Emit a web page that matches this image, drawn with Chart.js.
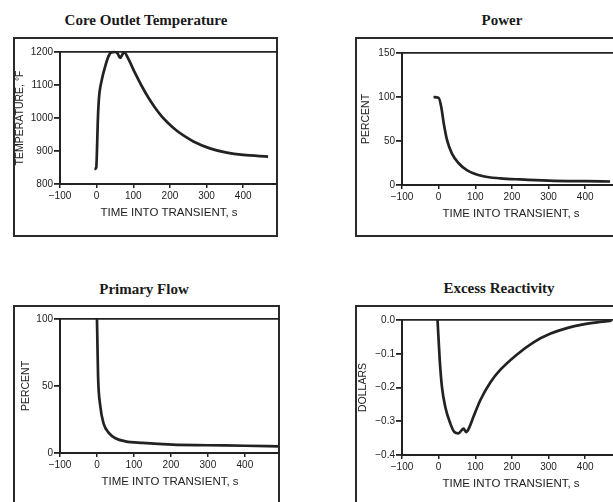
<!DOCTYPE html>
<html>
<head>
<meta charset="utf-8">
<script src="https://cdn.jsdelivr.net/npm/chart.js@4.4.1/dist/chart.umd.min.js"></script>
<style>
  html, body { margin:0; padding:0; background:#fff; width:613px; height:502px; overflow:hidden; }
  .box { position:absolute; border:2px solid #2a2a2a; box-sizing:border-box; }
  canvas { position:absolute; }
  .ttl { position:absolute; width:220px; text-align:center; font-family:"Liberation Serif", serif; font-weight:bold; font-size:15px; line-height:18px; color:#1a1a1a; }
</style>
</head>
<body>
<div class="box" style="left:13px;top:37px;width:265px;height:200px"></div>
<div class="box" style="left:355px;top:37px;width:275px;height:200px"></div>
<div class="box" style="left:13px;top:305px;width:267px;height:220px"></div>
<div class="box" style="left:355px;top:305px;width:275px;height:220px"></div>

<div class="ttl" style="left:36px;top:11px">Core Outlet Temperature</div>
<div class="ttl" style="left:392px;top:11px">Power</div>
<div class="ttl" style="left:34px;top:280px">Primary Flow</div>
<div class="ttl" style="left:389px;top:279px">Excess Reactivity</div>

<canvas id="c1" width="265" height="187" style="left:13px;top:37px;width:265px;height:187px"></canvas>
<canvas id="c2" width="265" height="188" style="left:355px;top:37px;width:265px;height:188px"></canvas>
<canvas id="c3" width="267" height="188" style="left:13px;top:305px;width:267px;height:188px"></canvas>
<canvas id="c4" width="265" height="190" style="left:355px;top:305px;width:265px;height:190px"></canvas>

<script>
// ---- shared x axis ----
const X_TICKS = [-100, 0, 100, 200, 300, 400];
const X_LABELS = ['\u2212100', '0', '100', '200', '300', '400'];
const X_TITLE = 'TIME INTO TRANSIENT, s';

// ---- Core Outlet Temperature ----
const tempTime  = [-6, -1, 1, 3, 6, 14, 23, 32, 40, 50, 57, 64, 70, 75, 88, 104, 123, 141, 159, 177, 195, 218, 241, 264, 309, 355, 400, 468];
const tempValue = [845, 850, 905, 985, 1055, 1115, 1155, 1186, 1199, 1200, 1196, 1182, 1192, 1199, 1176, 1138, 1097, 1062, 1032, 1006, 985, 962, 944, 929, 908, 895, 888, 883];
const tempTicks = [800, 900, 1000, 1100, 1200];
const tempTickLabels = ['800', '900', '1000', '1100', '1200'];

// ---- Power ----
const powerTime  = [-14, 0, 7, 14, 23, 36, 54, 77, 122, 168, 223, 300, 400, 468];
const powerValue = [100, 99, 89, 70, 51, 36, 25, 17, 10, 7.6, 6.3, 5, 4.3, 4];
const powerTicks = [0, 50, 100, 150];
const powerTickLabels = ['0', '50', '100', '150'];

// ---- Primary Flow ----
const flowTime  = [0, 1, 3, 9, 18, 32, 50, 77, 123, 205, 300, 400, 490];
const flowValue = [100, 85, 57, 35, 22, 15, 11, 8.7, 7.5, 6.2, 5.8, 5.4, 5];
const flowTicks = [0, 50, 100];
const flowTickLabels = ['0', '50', '100'];

// ---- Excess Reactivity ----
const reactTime  = [-3, 3, 9, 18, 32, 43, 54, 68, 75, 82, 95, 114, 141, 168, 214, 259, 304, 350, 395, 440, 472];
const reactValue = [0, -0.119, -0.198, -0.257, -0.307, -0.332, -0.336, -0.322, -0.332, -0.322, -0.287, -0.237, -0.185, -0.148, -0.102, -0.066, -0.041, -0.024, -0.013, -0.006, -0.002];
const reactTicks = [-0.4, -0.3, -0.2, -0.1, 0];
const reactTickLabels = ['\u22120.4', '\u22120.3', '\u22120.2', '\u22120.1', '0.0'];

const INK = '#222';
const FONT = 'Liberation Sans, Arial, sans-serif';

function makeChart(id, times, values, yMin, yMax, yTicks, yLabels, yTitle, yTitlePad, topPad) {
  const pts = times.map((t, i) => ({ x: t, y: values[i] }));
  return new Chart(document.getElementById(id), {
    type: 'scatter',
    data: { datasets: [{ data: pts, showLine: true, borderColor: INK, borderWidth: 2.7,
      pointRadius: 0, cubicInterpolationMode: 'monotone', clip: false }] },
    options: {
      responsive: false, animation: false, devicePixelRatio: 1,
      layout: { padding: { top: topPad, left: 0, right: 0, bottom: 0 } },
      plugins: { legend: { display: false }, tooltip: { enabled: false } },
      scales: {
        x: {
          type: 'linear', min: -100, max: 495,
          afterBuildTicks: s => { s.ticks = X_TICKS.map(v => ({ value: v })); },
          afterFit: s => { s.height = 40; },
          ticks: { callback: (v, i) => X_LABELS[i], font: { family: FONT, size: 10 }, color: INK,
                   padding: 2, maxRotation: 0, autoSkip: false },
          grid: { color: 'transparent', tickColor: INK, tickLength: 4, lineWidth: 1.5 },
          border: { display: true, color: INK, width: 2 },
          title: { display: true, text: X_TITLE, color: INK,
                   font: { family: FONT, size: 11.5, lineHeight: 1 }, padding: { top: 0, bottom: 5.5 } }
        },
        y: {
          type: 'linear', min: yMin, max: yMax,
          afterBuildTicks: s => { s.ticks = yTicks.map(v => ({ value: v })); },
          afterFit: s => { s.width = 47; },
          ticks: { callback: (v, i) => yLabels[i], font: { family: FONT, size: 10 }, color: INK, padding: 1 },
          grid: { color: c => (c.tick && c.tick.value === yMax) ? INK : 'transparent',
                  tickColor: INK, tickLength: 6, lineWidth: 1.8 },
          border: { display: true, color: INK, width: 2 },
          title: { display: true, text: yTitle, color: INK,
                   font: { family: FONT, size: 10.5, lineHeight: 1 }, padding: { top: yTitlePad, bottom: 0 } }
        }
      }
    }
  });
}

makeChart('c1', tempTime, tempValue, 800, 1200, tempTicks, tempTickLabels, 'TEMPERATURE, \u00B0F', 1.5, 15);
makeChart('c2', powerTime, powerValue, 0, 150, powerTicks, powerTickLabels, 'PERCENT', 6, 16);
makeChart('c3', flowTime, flowValue, 0, 100, flowTicks, flowTickLabels, 'PERCENT', 8, 14);
makeChart('c4', reactTime, reactValue, -0.4, 0, reactTicks, reactTickLabels, 'DOLLARS', 3, 15);
</script>
</body>
</html>
